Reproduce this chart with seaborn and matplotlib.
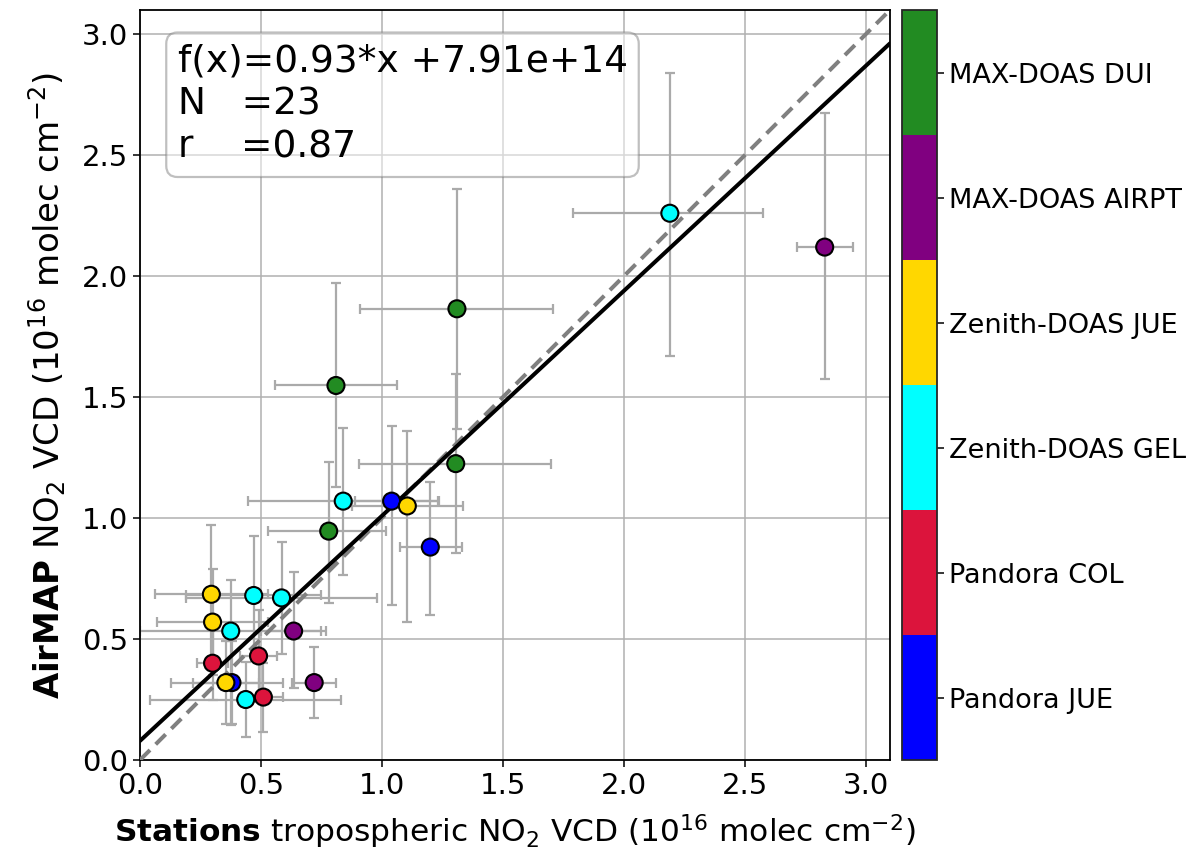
import numpy as np
import pandas as pd
import matplotlib
matplotlib.use("Agg")
import matplotlib.pyplot as plt
import seaborn as sns
from matplotlib.colors import ListedColormap, BoundaryNorm
from matplotlib.cm import ScalarMappable

# ---------------- data (units of 1e16 molec cm^-2) ----------------
instruments = ["Pandora JUE", "Pandora COL", "Zenith-DOAS GEL",
               "Zenith-DOAS JUE", "MAX-DOAS AIRPT", "MAX-DOAS DUI"]
inst_colors = ["#0000ff", "#dc143c", "#00ffff", "#ffd700", "#800080", "#228b22"]

point_inst = (["Pandora JUE"] * 3 + ["Pandora COL"] * 3 + ["Zenith-DOAS GEL"] * 6 +
              ["Zenith-DOAS JUE"] * 4 + ["MAX-DOAS AIRPT"] * 3 + ["MAX-DOAS DUI"] * 4)
station_vcd = [1.04, 1.20, 0.38,
               0.49, 0.30, 0.51,
               2.19, 0.84, 0.47, 0.585, 0.375, 0.437,
               1.105, 0.295, 0.30, 0.355,
               2.83, 0.635, 0.72,
               1.31, 1.305, 0.81, 0.78]
airmap_vcd = [1.07, 0.88, 0.32,
              0.43, 0.40, 0.26,
              2.26, 1.07, 0.68, 0.67, 0.533, 0.25,
              1.05, 0.685, 0.57, 0.32,
              2.12, 0.533, 0.32,
              1.865, 1.225, 1.548, 0.946]
station_lo = [0.89, 1.075, 0.13,
              0.415, 0.235, 0.42,
              1.79, 0.445, 0.19, 0.19, 0.0, 0.04,
              0.875, 0.06, 0.07, 0.22,
              2.715, 0.50, 0.63,
              0.91, 0.906, 0.556, 0.53]
station_hi = [1.23, 1.33, 0.59,
              0.565, 0.365, 0.59,
              2.575, 1.236, 0.75, 0.98, 0.75, 0.83,
              1.335, 0.53, 0.53, 0.49,
              2.946, 0.77, 0.81,
              1.706, 1.70, 1.063, 1.017]
airmap_lo = [0.64, 0.60, 0.15,
             0.24, 0.25, 0.115,
             1.67, 0.764, 0.44, 0.44, 0.144, 0.095,
             0.57, 0.40, 0.35, 0.15,
             1.573, 0.297, 0.173,
             1.37, 0.855, 1.127, 0.65]
airmap_hi = [1.38, 1.15, 0.49,
             0.62, 0.55, 0.40,
             2.84, 1.371, 0.925, 0.90, 0.743, 0.405,
             1.36, 0.97, 0.79, 0.49,
             2.675, 0.776, 0.467,
             2.36, 1.594, 1.97, 1.23]

fit_slope = 0.93
fit_intercept = 0.0791
fit_text = "f(x)=0.93*x +7.91e+14\nN   =23\nr    =0.87"
axis_ticks = [0.0, 0.5, 1.0, 1.5, 2.0, 2.5, 3.0]

df = pd.DataFrame({"instrument": point_inst, "x": station_vcd, "y": airmap_vcd,
                   "xlo": station_lo, "xhi": station_hi,
                   "ylo": airmap_lo, "yhi": airmap_hi})

# ---------------- figure ----------------
sns.set_style("white")
plt.rcParams["font.family"] = ["DejaVu Sans"]
plt.rcParams.update({"text.color": "black", "axes.labelcolor": "black",
                     "xtick.color": "black", "ytick.color": "black"})

fig = plt.figure(figsize=(11.94, 8.55), dpi=100)
ax = fig.add_axes([140 / 1194, 95 / 855, 750 / 1194, 750 / 855])
cax = fig.add_axes([902 / 1194, 95 / 855, 35 / 1194, 750 / 855])

lim = (0, 3.1)
ax.set_xlim(lim)
ax.set_ylim(lim)
ax.grid(True, color="#b0b0b0", linewidth=1.1, zorder=0)
ax.set_axisbelow(True)

# error bars
ax.errorbar(df["x"], df["y"],
            xerr=[df["x"] - df["xlo"], df["xhi"] - df["x"]],
            yerr=[df["y"] - df["ylo"], df["yhi"] - df["y"]],
            fmt="none", ecolor="#aaaaaa", elinewidth=1.6, capsize=3.5,
            capthick=1.6, zorder=2)

# 1:1 line and fit
xx = np.array(lim)
ax.plot(xx, xx, color="gray", linestyle=(0, (3.5, 2)), linewidth=2.9, zorder=3)
ax.plot(xx, fit_slope * xx + fit_intercept, color="black", linewidth=2.9, zorder=4)

sns.scatterplot(data=df, x="x", y="y", hue="instrument", hue_order=instruments,
                palette=dict(zip(instruments, inst_colors)), s=150,
                edgecolor="black", linewidth=1.5, legend=False, ax=ax, zorder=5)

ax.set_xticks(axis_ticks)
ax.set_yticks(axis_ticks)
ax.tick_params(axis="both", labelsize=21, length=5, width=1.1, direction="out",
               bottom=True, left=True, colors="black")
for sp in ax.spines.values():
    sp.set_linewidth(1.3)
    sp.set_color("black")

ax.set_xlabel(r"$\bf{Stations}$ tropospheric NO$_2$ VCD (10$^{16}$ molec cm$^{-2}$)",
              fontsize=22.5, labelpad=9)
ax.set_ylabel(r"$\bf{AirMAP}$ NO$_2$ VCD (10$^{16}$ molec cm$^{-2}$)",
              fontsize=24.5, labelpad=10)

ax.text(0.05, 0.955, fit_text, transform=ax.transAxes, fontsize=27,
        va="top", ha="left", linespacing=1.25, zorder=6,
        bbox=dict(boxstyle="round,pad=0.3", facecolor="white",
                  edgecolor="gray", alpha=0.5, linewidth=1.6))

# discrete colorbar
cmap = ListedColormap(inst_colors)
norm = BoundaryNorm(np.arange(len(instruments) + 1) - 0.5, cmap.N)
sm = ScalarMappable(norm=norm, cmap=cmap)
cb = fig.colorbar(sm, cax=cax, ticks=np.arange(len(instruments)))
cb.ax.set_yticklabels(instruments)
cb.ax.minorticks_off()
cb.ax.tick_params(labelsize=19.5, length=5, width=1.1, colors="black")
cb.outline.set_linewidth(1.3)

fig.savefig("out.png", dpi=100)
